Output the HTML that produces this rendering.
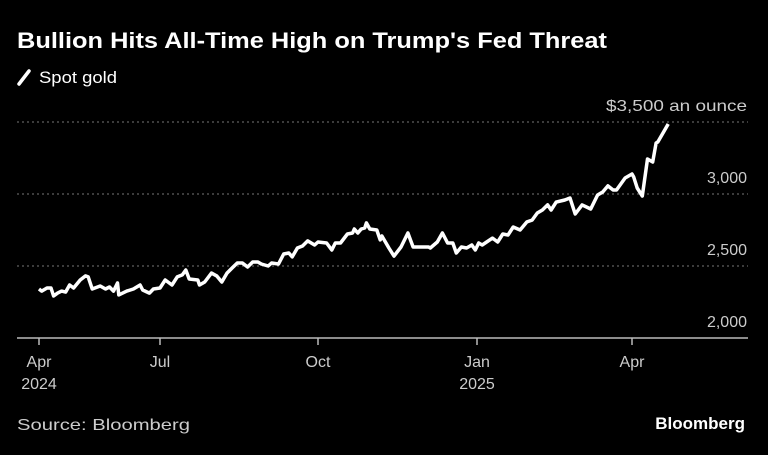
<!DOCTYPE html>
<html><head><meta charset="utf-8"><style>
html,body{margin:0;padding:0;background:#000;}
body{width:768px;height:450px;overflow:hidden;font-family:"Liberation Sans",sans-serif;}
svg text{font-family:"Liberation Sans",sans-serif;}
</style></head><body>
<svg id="c" width="768" height="450" xmlns="http://www.w3.org/2000/svg">
<text x="17" y="48" fill="#fff" font-size="22" font-weight="bold" textLength="590" lengthAdjust="spacingAndGlyphs">Bullion Hits All-Time High on Trump's Fed Threat</text>
<line x1="19" y1="84" x2="29" y2="71" stroke="#fff" stroke-width="3.5" stroke-linecap="round"/>
<text x="39" y="83" fill="#fff" font-size="17" textLength="78" lengthAdjust="spacingAndGlyphs">Spot gold</text>
<g id="grid"></g><g id="ticks"></g>
<path id="line" fill="none" stroke="#fff" stroke-width="3.5" stroke-linejoin="round"/>
<text x="17" y="430" fill="#ccc" font-size="16" textLength="173" lengthAdjust="spacingAndGlyphs">Source: Bloomberg</text>
<text x="745" y="429" fill="#fff" font-size="17" font-weight="bold" text-anchor="end">Bloomberg</text>
</svg>
<script>
const days=[0,2,6,9,11,14,17,20,23,26,31,35,37,40,46,50,53,56,59,60,66,71,76,78,83,86,91,94,98,101,104,106,108,113,114,117,121,124,127,130,133,136,139,142,145,148,150,154,156,160,163,166,168,171,174,177,181,183,188,191,193,196,200,203,204,206,208,210,211,213,217,219,220,224,227,231,235,238,247,248,252,255,258,261,263,266,269,272,274,276,278,284,287,290,293,296,300,304,307,310,313,316,318,321,326,329,332,336,341,345,348,351,354,356,361,365,366,368,371,374,377,379,380,386];
const values=[2340,2326,2347,2347,2292,2312,2326,2319,2368,2347,2403,2431,2424,2340,2361,2340,2354,2326,2382,2299,2326,2340,2368,2333,2312,2340,2347,2403,2368,2424,2438,2472,2410,2403,2368,2389,2451,2431,2389,2451,2486,2521,2521,2493,2528,2528,2514,2500,2521,2514,2583,2590,2563,2625,2639,2674,2646,2667,2660,2611,2660,2660,2722,2729,2757,2729,2757,2764,2799,2757,2750,2681,2708,2625,2569,2632,2729,2632,2632,2625,2667,2729,2660,2660,2590,2632,2625,2646,2611,2660,2646,2694,2667,2722,2715,2771,2750,2806,2819,2868,2889,2924,2889,2944,2958,2972,2861,2924,2896,2993,3014,3056,3028,3028,3111,3139,3118,3042,2986,3243,3222,3354,3361,3486];
const tickDays=[0,91,183,275,365];
const tickMonth=["Apr","Jul","Oct","Jan","Apr"];
const tickYear=["2024","","","2025",""];
const yTicks=[2000,2500,3000,3500];
const yLabels=["2,000","2,500","3,000","$3,500 an ounce"];
const knotD=[0,91,183,275,365],knotX=[39,160,318,477,632];
function x(d){let i=0;while(i<knotD.length-2&&d>knotD[i+1])i++;return knotX[i]+(d-knotD[i])*(knotX[i+1]-knotX[i])/(knotD[i+1]-knotD[i]);}
function y(v){return 338-(v-2000)*0.144;}
const NS="http://www.w3.org/2000/svg";
function mk(t,a,p){const e=document.createElementNS(NS,t);for(const k in a)e.setAttribute(k,a[k]);p.appendChild(e);return e;}
const g=document.getElementById('grid'),tk=document.getElementById('ticks');
yTicks.forEach((v,i)=>{
 if(i>0){const l=mk('line',{x1:17,x2:748,y1:y(v),y2:y(v),stroke:'#777','stroke-width':1,'stroke-dasharray':'2 3'},g);
 
 }
 const a={x:747,y:y(v)-11,fill:'#ccc','font-size':16,'text-anchor':'end'};
 if(i===3){a.textLength=141;a.lengthAdjust='spacingAndGlyphs';}
 const t=mk('text',a,g);t.textContent=yLabels[i];
 
 
});
const ax=mk('line',{x1:17,x2:748,y1:338,y2:338,stroke:'#bbb','stroke-width':1.5},tk);


tickDays.forEach((d,i)=>{
 const l=mk('line',{x1:x(d),x2:x(d),y1:338,y2:345,stroke:'#bbb','stroke-width':1.5},tk);
 
 
 const t=mk('text',{x:x(d),y:367,fill:'#ccc','font-size':16,'text-anchor':'middle'},tk);t.textContent=tickMonth[i];
 
 
 if(tickYear[i]){const t2=mk('text',{x:x(d),y:389,fill:'#ccc','font-size':16,'text-anchor':'middle'},tk);t2.textContent=tickYear[i];
 
 }
});
document.getElementById('line').setAttribute('d',days.map((d,i)=>(i?'L':'M')+x(d).toFixed(1)+' '+y(values[i]).toFixed(1)).join(''));
</script>
</body></html>
